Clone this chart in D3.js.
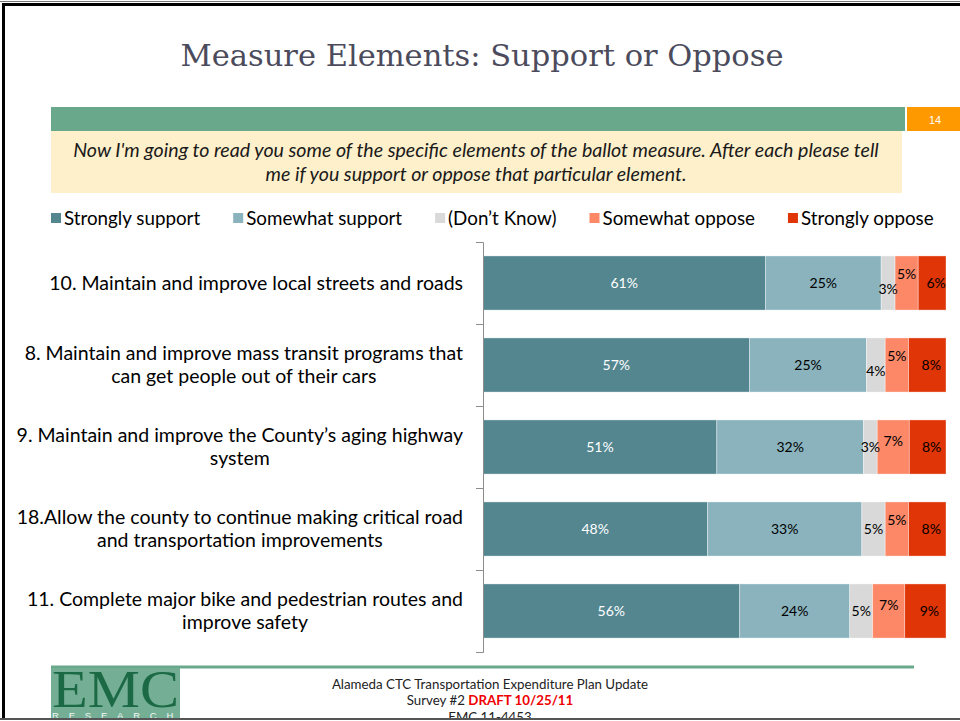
<!DOCTYPE html>
<html>
<head>
<meta charset="utf-8">
<script src="https://cdn.jsdelivr.net/npm/d3@7"></script>
<style>
  html, body { margin: 0; padding: 0; background: #fff; }
  svg { display: block; }
</style>
</head>
<body>
<svg id="slide" width="960" height="721"></svg>
<script>
// ---- Survey results: share of respondents by response, per measure element ----
const categories = [
  ["10. Maintain and improve local streets and roads"],
  ["8. Maintain and improve mass transit programs that", "can get people out of their cars"],
  ["9. Maintain and improve the County\u2019s aging highway", "system"],
  ["18.Allow the county to continue making critical road", "and transportation improvements"],
  ["11. Complete major bike and pedestrian routes and", "improve safety"]
];
const seriesNames = ["Strongly support", "Somewhat support", "(Don\u2019t Know)", "Somewhat oppose", "Strongly oppose"];
const stronglySupport = [61, 57, 51, 48, 56];
const somewhatSupport = [25, 25, 32, 33, 24];
const dontKnow        = [3, 4, 3, 5, 5];
const somewhatOppose  = [5, 5, 7, 5, 7];
const stronglyOppose  = [6, 8, 8, 8, 9];
const seriesColors = ["#53868f", "#8ab3bd", "#d9d9d9", "#fc8868", "#e03506"];

const titleText = "Measure Elements: Support or Oppose";
const questionLines = [
  "Now I'm going to read you some of the specific elements of the ballot measure.  After each please tell",
  "me if you support or oppose that particular element."
];
const pageNumber = "14";

const sans = "Lato, 'Open Sans', sans-serif";
const svg = d3.select("#slide");

// ---- slide frame ----
svg.append("rect").attr("x", 0).attr("y", 0).attr("width", 960).attr("height", 721).attr("fill", "#fff");
svg.append("line").attr("x1", 0).attr("x2", 960).attr("y1", 1.5).attr("y2", 1.5)
  .attr("stroke", "#777").attr("stroke-width", 1);
svg.append("line").attr("x1", 2).attr("x2", 960).attr("y1", 4.5).attr("y2", 4.5)
  .attr("stroke", "#000").attr("stroke-width", 3);
svg.append("line").attr("x1", 3.5).attr("x2", 3.5).attr("y1", 3).attr("y2", 721)
  .attr("stroke", "#000").attr("stroke-width", 3);

// ---- title ----
svg.append("text")
  .attr("x", 482).attr("y", 66)
  .attr("text-anchor", "middle")
  .attr("font-family", "'DejaVu Serif', serif")
  .attr("font-size", 30.5)
  .attr("fill", "#4b4b5c")
  .text(titleText);

// ---- header band, page number, question box ----
svg.append("rect").attr("x", 51).attr("y", 107).attr("width", 854).attr("height", 24).attr("fill", "#69a88a");
svg.append("rect").attr("x", 907).attr("y", 107).attr("width", 53).attr("height", 24).attr("fill", "#ff9900");
svg.append("text").attr("x", 935).attr("y", 124).attr("text-anchor", "middle")
  .attr("font-family", "'Liberation Sans', Arial, sans-serif").attr("font-size", 11).attr("fill", "#fff")
  .text(pageNumber);
svg.append("rect").attr("x", 51).attr("y", 131).attr("width", 851).attr("height", 62).attr("fill", "#fef0cb");
svg.append("g").selectAll("text").data(questionLines).join("text")
  .attr("x", 476).attr("y", (d, i) => 157 + i * 24)
  .attr("text-anchor", "middle")
  .attr("font-family", sans).attr("font-style", "italic")
  .attr("font-size", 19.6).attr("fill", "#1a1a1a")
  .text(d => d);

// ---- legend ----
const legend = svg.append("g").attr("font-family", sans).attr("font-size", 18.8);
let lx = 51;
seriesNames.forEach((name, i) => {
  legend.append("rect").attr("x", lx).attr("y", 213).attr("width", 10).attr("height", 10).attr("fill", seriesColors[i]);
  const t = legend.append("text").attr("x", lx + 13).attr("y", 225).attr("fill", "#000").text(name);
  lx += 13 + t.node().getComputedTextLength() + 33;
});

// ---- stacked 100% bars ----
const rows = categories.map((c, i) => ({
  key: i,
  [seriesNames[0]]: stronglySupport[i],
  [seriesNames[1]]: somewhatSupport[i],
  [seriesNames[2]]: dontKnow[i],
  [seriesNames[3]]: somewhatOppose[i],
  [seriesNames[4]]: stronglyOppose[i]
}));
const stacked = d3.stack().keys(seriesNames).offset(d3.stackOffsetExpand)(rows);

const x = d3.scaleLinear().domain([0, 1]).range([483, 946]);
const y = d3.scaleBand().domain(d3.range(categories.length)).range([242, 652])
  .paddingInner(0.34).paddingOuter(0.17);
const color = d3.scaleOrdinal().domain(seriesNames).range(seriesColors);

const barsG = svg.append("g");
stacked.forEach(layer => {
  barsG.append("g").attr("fill", color(layer.key))
    .selectAll("rect").data(layer).join("rect")
    .attr("x", d => x(d[0]))
    .attr("y", (d, i) => y(i))
    .attr("width", d => x(d[1]) - x(d[0]))
    .attr("height", y.bandwidth())
    .attr("stroke", "#ffffff").attr("stroke-opacity", 0.45).attr("stroke-width", 0.8);
});

// value labels; small end segments push their label up or down to stay readable
const labelsG = svg.append("g").attr("font-family", sans).attr("font-size", 14).attr("text-anchor", "middle");
stacked.forEach((layer, si) => {
  labelsG.selectAll(null).data(layer).join("text")
    .attr("x", d => {
      const cx = (x(d[0]) + x(d[1])) / 2;
      return si === 4 ? Math.min(cx + 4, 941) : cx;
    })
    .attr("y", (d, i) => {
      const cy = y(i) + y.bandwidth() / 2 + 5;
      const w = x(d[1]) - x(d[0]);
      if (si === 3) return cy - (w < 30 ? 9 : 6);
      if (si === 2 && w < 20 && i < 2) return cy + 6;
      return cy;
    })
    .attr("fill", si === 0 ? "#fff" : "#000")
    .text(d => d.data[layer.key] + "%");
});

// ---- category axis: ticks sit on the band boundaries ----
const axisScale = d3.scaleLinear().domain([0, categories.length]).range([242, 652]);
const axisG = svg.append("g").attr("transform", "translate(483,0)")
  .call(d3.axisLeft(axisScale).tickValues(d3.range(categories.length + 1)).tickSize(7).tickFormat(""));
axisG.selectAll("path, line").attr("stroke", "#8c8c8c");

// category labels: each block centred on itself, right edge at the axis gap
const catG = svg.append("g").attr("font-family", sans).attr("font-size", 19.5).attr("fill", "#000");
categories.forEach((lines, i) => {
  const g = catG.append("g");
  const texts = lines.map(l => g.append("text").text(l));
  const widths = texts.map(t => t.node().getComputedTextLength());
  const maxW = d3.max(widths);
  const cx = 463 - maxW / 2;
  const cy = y(i) + y.bandwidth() / 2;
  const lh = 23.5;
  const first = cy - (lines.length - 1) * lh / 2 + 6.5;
  texts.forEach((t, j) => t.attr("x", cx).attr("y", first + j * lh).attr("text-anchor", "middle"));
});

// ---- footer ----
svg.append("line").attr("x1", 51).attr("x2", 914).attr("y1", 667).attr("y2", 667)
  .attr("stroke", "#69a88a").attr("stroke-width", 3);
const logo = svg.append("g");
logo.append("rect").attr("x", 51).attr("y", 668).attr("width", 129).attr("height", 52).attr("fill", "#74af95");
logo.append("text").attr("x", 52).attr("y", 707)
  .attr("font-family", "'Liberation Serif', 'Times New Roman', serif")
  .attr("font-size", 52).attr("fill", "#1b6a45")
  .attr("textLength", 127).attr("lengthAdjust", "spacingAndGlyphs")
  .text("EMC");
logo.append("text").attr("x", 52).attr("y", 719)
  .attr("font-family", "'Liberation Sans', sans-serif").attr("font-size", 9.5).attr("fill", "#f2f7f4")
  .attr("letter-spacing", 9.8)
  .text("RESEARCH");

const foot = svg.append("g").attr("font-family", sans).attr("font-size", 13.3).attr("text-anchor", "middle").attr("fill", "#222");
foot.append("text").attr("x", 490).attr("y", 689).text("Alameda CTC Transportation Expenditure Plan Update");
const l2 = foot.append("text").attr("x", 490).attr("y", 705);
l2.append("tspan").text("Survey #2 ");
l2.append("tspan").attr("font-weight", "bold").attr("fill", "#ee0000").text("DRAFT 10/25/11");
foot.append("text").attr("x", 490).attr("y", 722).text("EMC 11-4453");

svg.append("line").attr("x1", 0).attr("x2", 960).attr("y1", 719).attr("y2", 719)
  .attr("stroke", "#555").attr("stroke-width", 2);
svg.append("rect").attr("x", 0).attr("y", 720).attr("width", 960).attr("height", 1).attr("fill", "#fff");
</script>
</body>
</html>
